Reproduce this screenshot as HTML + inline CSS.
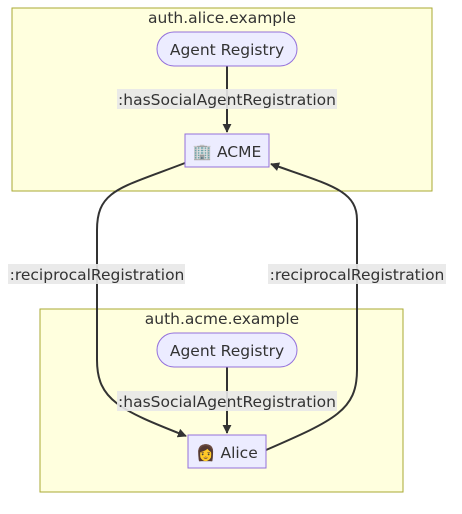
<!DOCTYPE html>
<html><head><style>
html,body{margin:0;padding:0;background:#fff;}
svg text{font-family:"DejaVu Sans","Liberation Sans",sans-serif;font-size:15.5px;fill:#333;}
</style></head><body>
<svg width="462" height="509" xmlns="http://www.w3.org/2000/svg">
<defs><marker id="a" viewBox="0 0 10 10" refX="9" refY="5" markerWidth="4.5" markerHeight="4.5" orient="auto"><path d="M0,0L10,5L0,10z" fill="#333"/></marker></defs>
<rect x="12" y="8" width="420" height="183" fill="#ffffde" stroke="#aaaa33"/>
<rect x="40" y="309" width="363" height="183" fill="#ffffde" stroke="#aaaa33"/>
<text x="222" y="23" text-anchor="middle">auth.alice.example</text>
<text x="222" y="324" text-anchor="middle">auth.acme.example</text>
<g fill="none" stroke="#333" stroke-width="2">
<path d="M227,66V132" marker-end="url(#a)"/>
<path d="M227,367V433" marker-end="url(#a)"/>
<path d="M185,163 C120,188 97,190 97,230 V360 C97,400 120,410 186,436" marker-end="url(#a)"/>
<path d="M266,450 C335,420 357,410 357,370 V220 C357,190 330,185 271,164" marker-end="url(#a)"/>
</g>
<rect x="157" y="32" width="140" height="34" rx="17" fill="#ececff" stroke="#9370db"/>
<text x="227" y="55" text-anchor="middle">Agent Registry</text>
<rect x="157" y="333" width="140" height="34" rx="17" fill="#ececff" stroke="#9370db"/>
<text x="227" y="356" text-anchor="middle">Agent Registry</text>
<rect x="185" y="134" width="84" height="33" fill="#ececff" stroke="#9370db"/>
<text x="227" y="157" text-anchor="middle">🏢 ACME</text>
<rect x="188" y="435" width="78" height="33" fill="#ececff" stroke="#9370db"/>
<text x="227" y="458" text-anchor="middle">👩 Alice</text>
<rect x="117" y="89" width="220" height="20" fill="#e8e8e8" opacity="0.9"/>
<text x="227" y="105" text-anchor="middle">:hasSocialAgentRegistration</text>
<rect x="117" y="391" width="220" height="20" fill="#e8e8e8" opacity="0.9"/>
<text x="227" y="407" text-anchor="middle">:hasSocialAgentRegistration</text>
<rect x="8" y="264" width="177" height="20" fill="#e8e8e8" opacity="0.9"/>
<text x="97" y="280" text-anchor="middle">:reciprocalRegistration</text>
<rect x="268" y="264" width="178" height="20" fill="#e8e8e8" opacity="0.9"/>
<text x="357" y="280" text-anchor="middle">:reciprocalRegistration</text>
</svg>
</body></html>
